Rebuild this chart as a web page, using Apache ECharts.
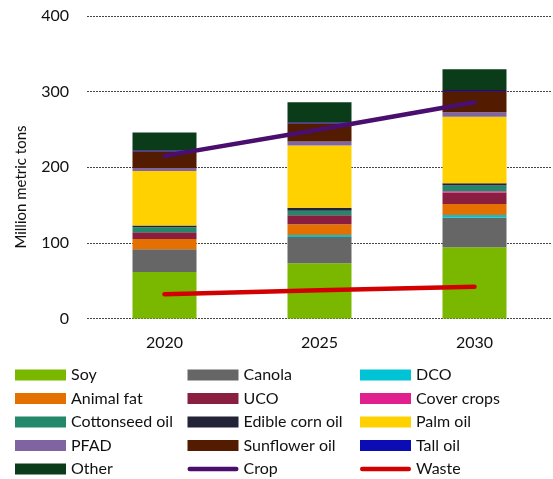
<!DOCTYPE html>
<html>
<head>
<meta charset="utf-8">
<script src="https://cdn.jsdelivr.net/npm/echarts@6/dist/echarts.min.js"></script>
<style>
  html, body { margin: 0; padding: 0; background: #fff; }
  #chart { width: 553px; height: 479px; }
</style>
</head>
<body>
<div id="chart"></div>
<script>
// Feedstock demand by year, million metric tons
const years = ['2020', '2025', '2030'];

const soy          = [61.5, 73.0, 94.2];
const canola       = [30.0, 34.8, 39.2];
const dco          = [0.0, 2.6, 3.5];
const animalFat    = [13.6, 14.1, 14.6];
const uco          = [8.8, 11.9, 15.0];
const coverCrops   = [0.0, 0.0, 1.8];
const cottonseed   = [6.6, 6.2, 7.5];
const edibleCorn   = [2.6, 4.0, 3.1];
const palm         = [72.0, 82.0, 88.0];
const pfad         = [4.0, 5.3, 5.8];
const sunflower    = [22.0, 24.2, 28.2];
const tallOil      = [1.3, 1.3, 1.3];
const other        = [23.4, 26.5, 27.4];

const crop  = [215, 250, 286];
const waste = [32, 37.5, 42];

const yTicks = [0, 100, 200, 300, 400];

const stackSeries = [
  ['Soy', soy, '#7AB800'],
  ['Canola', canola, '#666666'],
  ['DCO', dco, '#00C4D6'],
  ['Animal fat', animalFat, '#E37000'],
  ['UCO', uco, '#8A1E41'],
  ['Cover crops', coverCrops, '#E0208F'],
  ['Cottonseed oil', cottonseed, '#23886A'],
  ['Edible corn oil', edibleCorn, '#232338'],
  ['Palm oil', palm, '#FFD100'],
  ['PFAD', pfad, '#8064A2'],
  ['Sunflower oil', sunflower, '#531C00'],
  ['Tall oil', tallOil, '#0C0CB4'],
  ['Other', other, '#0B3C1A']
];

const series = stackSeries.map(([name, data, color]) => ({
  name, type: 'bar', stack: 'total', data,
  barWidth: 64,
  itemStyle: { color },
  emphasis: { disabled: true }
}));

series.push({
  name: 'Crop', type: 'line', data: crop, symbol: 'none',
  lineStyle: { color: '#4A0F6E', width: 4.5, cap: 'round' },
  itemStyle: { color: '#4A0F6E' }
});
series.push({
  name: 'Waste', type: 'line', data: waste, symbol: 'none',
  lineStyle: { color: '#D20000', width: 4.5, cap: 'round' },
  itemStyle: { color: '#D20000' }
});

// thin rounded bar used as the legend key of the two line series
const lineKey = 'path://M2.25,0 H48.75 A2.25,2.25 0 0 1 48.75,4.5 H2.25 A2.25,2.25 0 0 1 2.25,0 Z';

const font = 'Lato, "Open Sans", sans-serif';
const allNames = stackSeries.map(s => s[0]).concat(['Crop', 'Waste']);
// three legend columns, items read row by row
const legendCols = [0, 1, 2].map(c => allNames.filter((_, i) => i % 3 === c));
const colLeft = [15, 187.5, 360];

const legends = legendCols.map((names, c) => ({
  orient: 'vertical',
  left: colLeft[c],
  top: 367,
  data: names.map(n => (n === 'Crop' || n === 'Waste') ? { name: n, icon: lineKey } : { name: n, icon: 'rect' }),
  itemWidth: 51,
  itemHeight: 11,
  itemGap: 7.5,
  padding: 0,
  symbolKeepAspect: true,
  selectedMode: false,
  textStyle: { fontFamily: font, fontSize: 16, color: '#111', lineHeight: 16, padding: [0, 0, 0, 0] }
}));

const chart = echarts.init(document.getElementById('chart'));
chart.setOption({
  animation: false,
  backgroundColor: '#fff',
  grid: { left: 87, right: 1, top: 16, bottom: 160.5 },
  legend: legends,
  xAxis: {
    type: 'category',
    data: years,
    axisLine: { show: false },
    axisTick: { show: false },
    axisLabel: { fontFamily: font, fontSize: 16, color: '#111', margin: 16 }
  },
  yAxis: {
    type: 'value',
    min: yTicks[0],
    max: yTicks[yTicks.length - 1],
    interval: 100,
    axisLine: { show: false },
    axisTick: { show: false },
    axisLabel: { fontFamily: font, fontSize: 16, color: '#111', margin: 18 },
    splitLine: { lineStyle: { color: '#444', width: 1, type: [2, 1] } }
  },
  graphic: [{
    type: 'text',
    x: 21, y: 187,
    rotation: Math.PI / 2,
    style: {
      text: 'Million metric tons',
      fontFamily: font, fontSize: 15, fill: '#111',
      align: 'center', verticalAlign: 'middle'
    }
  }],
  series
});
</script>
</body>
</html>
